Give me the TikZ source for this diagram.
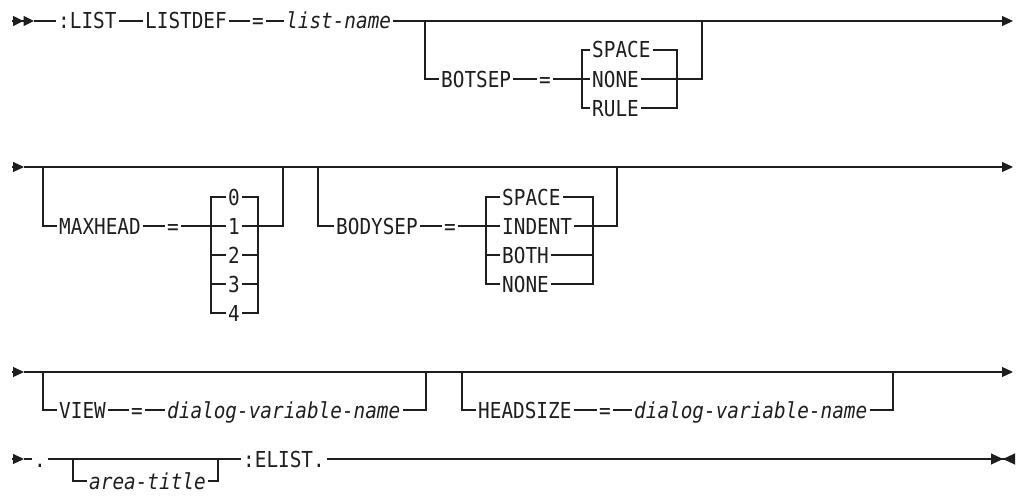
\documentclass[tikz,border=0pt]{standalone}
\usepackage{fontspec}
\setmonofont[FakeStretch=0.88]{DejaVu Sans Mono}
\usetikzlibrary{arrows.meta}
\definecolor{ink}{HTML}{1E1E1E}
\newcommand{\railfont}{\ttfamily\fontsize{22}{26}\selectfont}

\begin{document}
\begin{tikzpicture}[
  x=1pt, y=-1pt,
  kw/.style={font=\railfont, text=ink, anchor=west, inner xsep=2pt, inner ysep=0pt,
             text height=16pt, text depth=0pt},
  var/.style={kw, font=\railfont\itshape},
  rail/.style={draw=ink, line width=1.1pt},
  head/.style={rail, -{Triangle[length=11pt, width=10pt]}},
  twohead/.style={rail, -{Triangle[length=10.5pt, width=10pt] Triangle[length=10.5pt, width=10pt]}},
  stop/.style={rail, -{Triangle[length=12pt, width=11pt] Triangle[length=12pt, width=11pt, reversed]}}
]
  \useasboundingbox (0,0) rectangle (1016,495);

  % ── Row 1: :LIST LISTDEF = list-name [BOTSEP] ───────────────────────────────
  \coordinate (s1)  at (12,21);
  \coordinate (s1a) at (34,21);
  \coordinate (e1)  at (1013,21);
  \node[kw]  (list)    at (56,21)  {:LIST};
  \node[kw]  (listdef) at (143,21) {LISTDEF};
  \node[kw]  (eqa)     at (250,21) {=};
  \node[var] (lname)   at (284,21) {list-name};

  \coordinate (bsl) at (425,21);
  \coordinate (bsr) at (702,21);
  \coordinate (bcl) at (582,79);
  \coordinate (bcr) at (677,79);
  \node[kw] (botsep) at (439,79)  {BOTSEP};
  \node[kw] (eqb)    at (537,79)  {=};
  \node[kw] (bspace) at (590,50)  {SPACE};
  \node[kw] (bnone)  at (590,79)  {NONE};
  \node[kw] (brule)  at (590,108) {RULE};

  \draw[twohead] (s1) -- (s1a);
  \draw[rail] (s1a) -- (list);
  \draw[rail] (list) -- (listdef);
  \draw[rail] (listdef) -- (eqa);
  \draw[rail] (eqa) -- (lname);
  \draw[head] (lname) -- (e1);

  \draw[rail] (bsl) |- (botsep);
  \draw[rail] (botsep) -- (eqb);
  \draw[rail] (eqb) -- (bnone);
  \draw[rail] (bnone) -| (bsr);
  \draw[rail] (bspace) -| (bcl |- brule) -- (brule);
  \draw[rail] (bspace) -| (bcr |- brule) -- (brule);

  % ── Row 2: [MAXHEAD] [BODYSEP] ──────────────────────────────────────────────
  \coordinate (s2)  at (12,167);
  \coordinate (s2a) at (24,167);
  \coordinate (e2)  at (1013,167);

  \coordinate (mxl) at (43,167);
  \coordinate (mxr) at (283,167);
  \coordinate (mcl) at (211,226);
  \coordinate (mcr) at (258,226);
  \node[kw] (maxhead) at (57,226)  {MAXHEAD};
  \node[kw] (eqc)     at (165,226) {=};
  \foreach \d in {0,...,4}
    \node[kw] (mx\d) at (226,{197+29*\d}) {\d};

  \coordinate (bdl) at (318,167);
  \coordinate (bdr) at (617,167);
  \coordinate (dcl) at (486,226);
  \coordinate (dcr) at (593,226);
  \node[kw] (bodysep) at (334,226) {BODYSEP};
  \node[kw] (eqd)     at (442,226) {=};
  \node[kw] (dspace)  at (500,197) {SPACE};
  \node[kw] (dindent) at (500,226) {INDENT};
  \node[kw] (dboth)   at (500,255) {BOTH};
  \node[kw] (dnone)   at (500,284) {NONE};

  \draw[head] (s2) -- (s2a);
  \draw[head] (s2a) -- (e2);

  \draw[rail] (mxl) |- (maxhead);
  \draw[rail] (maxhead) -- (eqc);
  \draw[rail] (eqc) -- (mx1);
  \draw[rail] (mx1) -| (mxr);
  \draw[rail] (mx0) -| (mcl |- mx4) -- (mx4);
  \draw[rail] (mx0) -| (mcr |- mx4) -- (mx4);
  \foreach \d in {2,3}
    \draw[rail] (mcl |- mx\d) -- (mx\d) (mx\d) -- (mcr |- mx\d);

  \draw[rail] (bdl) |- (bodysep);
  \draw[rail] (bodysep) -- (eqd);
  \draw[rail] (eqd) -- (dindent);
  \draw[rail] (dindent) -| (bdr);
  \draw[rail] (dspace) -| (dcl |- dnone) -- (dnone);
  \draw[rail] (dspace) -| (dcr |- dnone) -- (dnone);
  \draw[rail] (dcl |- dboth) -- (dboth) (dboth) -- (dcr |- dboth);

  % ── Row 3: [VIEW] [HEADSIZE] ────────────────────────────────────────────────
  \coordinate (s3)  at (12,372);
  \coordinate (s3a) at (24,372);
  \coordinate (e3)  at (1013,372);

  \coordinate (vwl) at (43,372);
  \coordinate (vwr) at (426,372);
  \node[kw]  (view)  at (57,410)  {VIEW};
  \node[kw]  (eqe)   at (129,410) {=};
  \node[var] (vname) at (165,410) {dialog-variable-name};

  \coordinate (hsl) at (462,372);
  \coordinate (hsr) at (893,372);
  \node[kw]  (headsize) at (476,410) {HEADSIZE};
  \node[kw]  (eqf)      at (597,410) {=};
  \node[var] (hname)    at (632,410) {dialog-variable-name};

  \draw[head] (s3) -- (s3a);
  \draw[head] (s3a) -- (e3);

  \draw[rail] (vwl) |- (view);
  \draw[rail] (view) -- (eqe);
  \draw[rail] (eqe) -- (vname);
  \draw[rail] (vname) -| (vwr);

  \draw[rail] (hsl) |- (headsize);
  \draw[rail] (headsize) -- (eqf);
  \draw[rail] (eqf) -- (hname);
  \draw[rail] (hname) -| (hsr);

  % ── Row 4: . [area-title] :ELIST. ───────────────────────────────────────────
  \coordinate (s4)  at (12,459);
  \coordinate (s4a) at (24,459);
  \coordinate (e4)  at (1015,459);
  \node[kw] (dot)   at (32,459)  {.};
  \node[kw] (elist) at (241,459) {:ELIST.};

  \coordinate (atl) at (73,459);
  \coordinate (atr) at (218,459);
  \node[var] (atitle) at (87,481) {area-title};

  \draw[head] (s4) -- (s4a);
  \draw[rail] (s4a) -- (dot);
  \draw[rail] (dot) -- (elist);
  \draw[stop] (elist) -- (e4);

  \draw[rail] (atl) |- (atitle);
  \draw[rail] (atitle) -| (atr);
\end{tikzpicture}
\end{document}
